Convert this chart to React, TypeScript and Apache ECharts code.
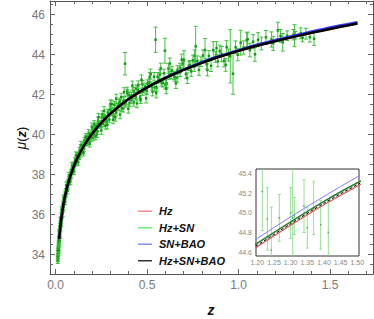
import React, { useEffect, useRef } from "react";
import * as echarts from "echarts";

// ---- model curves ----
const zGrid = [0.02, 0.03, 0.04, 0.05, 0.06, 0.07, 0.08, 0.09, 0.10, 0.12, 0.15, 0.175, 0.20, 0.25, 0.30, 0.35, 0.40, 0.45, 0.50, 0.55, 0.60, 0.65, 0.70, 0.75, 0.80, 0.85, 0.90, 0.95, 1.00, 1.10, 1.20, 1.30, 1.40, 1.50, 1.60, 1.65];
const muHz = [34.79, 35.69, 36.33, 36.83, 37.24, 37.59, 37.89, 38.16, 38.41, 38.84, 39.36, 39.73, 40.05, 40.59, 41.05, 41.44, 41.78, 42.08, 42.35, 42.60, 42.83, 43.04, 43.24, 43.42, 43.59, 43.75, 43.90, 44.04, 44.18, 44.44, 44.655, 44.875, 45.085, 45.275, 45.46, 45.55];
const muHzSn = [34.79, 35.69, 36.33, 36.83, 37.24, 37.59, 37.89, 38.16, 38.41, 38.84, 39.36, 39.73, 40.05, 40.59, 41.05, 41.44, 41.78, 42.08, 42.35, 42.60, 42.83, 43.05, 43.25, 43.43, 43.60, 43.77, 43.92, 44.06, 44.20, 44.46, 44.69, 44.91, 45.12, 45.31, 45.49, 45.58];
const muSnBao = [34.79, 35.69, 36.33, 36.83, 37.24, 37.59, 37.90, 38.17, 38.42, 38.85, 39.37, 39.74, 40.06, 40.61, 41.07, 41.46, 41.80, 42.11, 42.38, 42.63, 42.87, 43.08, 43.28, 43.46, 43.64, 43.81, 43.96, 44.10, 44.24, 44.51, 44.74, 44.96, 45.17, 45.37, 45.55, 45.64];
const muHzSnBao = [34.79, 35.69, 36.33, 36.83, 37.24, 37.59, 37.89, 38.16, 38.41, 38.84, 39.36, 39.73, 40.05, 40.59, 41.05, 41.44, 41.78, 42.08, 42.35, 42.60, 42.83, 43.04, 43.24, 43.42, 43.59, 43.76, 43.91, 44.05, 44.19, 44.45, 44.67, 44.89, 45.10, 45.29, 45.47, 45.56];

// ---- SN data [z, mu, error] ----
const snLow = [
  [0.0122, 33.68, 0.12], [0.0126, 33.85, 0.13], [0.0131, 33.79, 0.12], [0.0137, 34.05, 0.14], [0.0142, 33.94, 0.12], [0.0148, 34.18, 0.13], [0.0153, 34.08, 0.12], [0.0158, 34.40, 0.13], [0.0163, 34.29, 0.12], [0.0169, 34.49, 0.13], [0.0174, 34.35, 0.12], [0.0180, 34.58, 0.13], [0.0186, 34.77, 0.14], [0.0192, 34.62, 0.12], [0.0198, 34.78, 0.12], [0.0205, 34.71, 0.13], [0.0212, 35.02, 0.13], [0.0219, 34.93, 0.12], [0.0226, 35.12, 0.12], [0.0234, 35.02, 0.13], [0.0242, 35.33, 0.13], [0.0250, 35.26, 0.12], [0.0259, 35.43, 0.12], [0.0268, 35.31, 0.13], [0.0277, 35.53, 0.12], [0.0286, 35.73, 0.13], [0.0295, 35.57, 0.12], [0.0305, 35.78, 0.12], [0.0316, 35.70, 0.12], [0.0327, 35.99, 0.13], [0.0338, 35.91, 0.12], [0.0350, 36.12, 0.12], [0.0362, 35.97, 0.13], [0.0375, 36.23, 0.12], [0.0388, 36.40, 0.13], [0.0401, 36.27, 0.12], [0.0415, 36.51, 0.12], [0.0430, 36.37, 0.13], [0.0445, 36.60, 0.12], [0.0460, 36.79, 0.13], [0.0476, 36.65, 0.12], [0.0492, 36.87, 0.12], [0.0510, 36.75, 0.13], [0.0528, 37.07, 0.12], [0.0547, 36.99, 0.12], [0.0566, 37.17, 0.13], [0.0586, 37.04, 0.12], [0.0607, 37.36, 0.12], [0.0629, 37.29, 0.13], [0.0651, 37.57, 0.12], [0.0674, 37.41, 0.12], [0.0698, 37.62, 0.13], [0.0722, 37.77, 0.12], [0.0748, 37.61, 0.12], [0.0775, 37.88, 0.13], [0.0803, 37.88, 0.12], [0.0832, 38.12, 0.12], [0.0862, 37.96, 0.13], [0.0893, 38.22, 0.12], [0.0925, 38.16, 0.12], [0.0958, 38.43, 0.13], [0.0992, 38.26, 0.12], [0.1027, 38.52, 0.12], [0.1063, 38.72, 0.13], [0.1100, 38.55, 0.12], [0.1140, 38.81, 0.13], [0.1180, 38.65, 0.12], [0.1190, 38.98, 0.13], [0.1222, 38.95, 0.12], [0.1265, 38.91, 0.13], [0.1283, 38.89, 0.13], [0.1309, 39.21, 0.14], [0.1355, 39.00, 0.13], [0.1378, 39.36, 0.14], [0.1402, 39.28, 0.13], [0.1450, 39.21, 0.12], [0.1475, 39.15, 0.13], [0.1500, 39.49, 0.14], [0.1552, 39.30, 0.13], [0.1580, 39.72, 0.15], [0.1606, 39.56, 0.13], [0.1661, 39.80, 0.15], [0.1690, 39.61, 0.14], [0.1718, 39.59, 0.14],
];
const snMid = [
  [0.1776, 39.88, 0.14], [0.1810, 40.09, 0.16], [0.1835, 39.66, 0.15], [0.1895, 39.99, 0.14], [0.1930, 39.81, 0.15], [0.1957, 39.94, 0.14], [0.2021, 40.29, 0.15], [0.2060, 39.85, 0.15], [0.2087, 40.02, 0.14], [0.2110, 40.53, 0.17], [0.2155, 40.26, 0.14], [0.2190, 40.31, 0.14], [0.2225, 40.45, 0.15], [0.2260, 40.02, 0.16], [0.2297, 40.17, 0.15], [0.2330, 40.71, 0.17], [0.2371, 40.54, 0.14], [0.2410, 40.50, 0.15], [0.2447, 40.50, 0.14], [0.2480, 40.48, 0.15], [0.2525, 40.86, 0.16], [0.2570, 41.02, 0.17], [0.2605, 40.55, 0.15], [0.2640, 40.86, 0.16], [0.2687, 40.82, 0.15], [0.2730, 40.45, 0.17], [0.2771, 40.76, 0.14], [0.2810, 40.67, 0.16], [0.2857, 41.11, 0.16], [0.2900, 41.08, 0.16], [0.2945, 40.76, 0.16], [0.2990, 41.27, 0.17], [0.3035, 41.18, 0.15], [0.3080, 41.53, 0.19], [0.3127, 41.13, 0.15], [0.3180, 40.91, 0.17], [0.3221, 41.50, 0.17], [0.3270, 40.87, 0.19], [0.3317, 41.14, 0.16], [0.3380, 41.37, 0.16], [0.3415, 41.42, 0.15], [0.3480, 41.58, 0.17], [0.3515, 41.66, 0.17], [0.3590, 41.88, 0.19], [0.3617, 41.33, 0.16], [0.3700, 41.31, 0.18], [0.3721, 41.71, 0.16], [0.3800, 43.55, 0.56], [0.3810, 41.55, 0.17], [0.3827, 41.60, 0.16], [0.3920, 42.18, 0.20], [0.3935, 42.07, 0.18], [0.4040, 41.97, 0.17], [0.4045, 41.59, 0.17], [0.4150, 41.73, 0.18], [0.4157, 41.95, 0.16], [0.4271, 42.18, 0.18], [0.4280, 41.62, 0.19], [0.4387, 41.90, 0.17], [0.4400, 42.30, 0.19], [0.4505, 42.23, 0.17], [0.4520, 42.49, 0.20], [0.4625, 41.87, 0.19], [0.4650, 41.76, 0.20], [0.4747, 42.52, 0.19], [0.4770, 42.15, 0.18], [0.4871, 42.30, 0.17], [0.4900, 42.39, 0.19], [0.4997, 42.20, 0.18], [0.5030, 42.55, 0.19], [0.5125, 42.61, 0.19], [0.5150, 42.89, 0.22], [0.5255, 42.42, 0.18], [0.5300, 42.15, 0.21], [0.5387, 42.90, 0.21], [0.5420, 42.36, 0.20], [0.5470, 44.75, 0.63], [0.5521, 42.37, 0.20], [0.5580, 42.90, 0.21], [0.5657, 42.77, 0.19], [0.5700, 43.03, 0.22], [0.5795, 42.62, 0.19], [0.5870, 42.59, 0.21], [0.5935, 43.07, 0.21], [0.5980, 44.20, 0.62], [0.6000, 42.51, 0.22], [0.6077, 42.56, 0.22], [0.6170, 43.31, 0.24], [0.6221, 42.97, 0.20], [0.6320, 43.03, 0.21], [0.6367, 43.20, 0.22], [0.6480, 42.96, 0.21], [0.6515, 42.88, 0.21], [0.6650, 42.85, 0.22], [0.6665, 43.24, 0.21], [0.6800, 43.35, 0.22], [0.6817, 43.12, 0.21], [0.6971, 43.56, 0.24], [0.7020, 43.72, 0.48], [0.7127, 43.03, 0.23], [0.7285, 43.43, 0.22],
];
const snHigh = [
  [0.735, 43.49, 0.22], [0.742, 43.17, 0.25], [0.751, 43.72, 0.26], [0.758, 43.40, 0.24], [0.766, 44.42, 1.00], [0.775, 43.69, 0.25], [0.784, 43.24, 0.27], [0.795, 43.65, 0.24], [0.806, 43.96, 0.28], [0.817, 44.23, 0.58], [0.826, 43.53, 0.26], [0.838, 43.94, 0.27], [0.850, 43.44, 0.28], [0.862, 44.23, 0.42], [0.874, 43.88, 0.26], [0.887, 43.67, 0.28], [0.898, 44.18, 0.30], [0.908, 44.03, 0.38], [0.921, 43.69, 0.30], [0.935, 44.38, 0.32], [0.945, 43.98, 0.30], [0.955, 43.92, 1.33], [0.970, 43.05, 1.03], [0.984, 44.37, 0.32], [0.996, 44.00, 0.30], [1.012, 44.60, 0.62], [1.028, 44.36, 0.33], [1.045, 44.73, 0.36], [1.062, 44.23, 0.34], [1.080, 44.65, 0.35], [1.107, 44.75, 0.35], [1.125, 44.56, 0.32], [1.150, 44.87, 0.34], [1.180, 44.76, 0.38], [1.190, 44.57, 0.35],
  [1.215, 45.22, 0.40], [1.230, 44.94, 0.32], [1.242, 44.62, 0.44], [1.266, 44.95, 0.24], [1.300, 45.00, 0.26], [1.306, 44.95, 0.55], [1.311, 44.97, 0.19], [1.340, 45.07, 0.27], [1.350, 44.85, 0.21], [1.369, 45.05, 0.27], [1.390, 44.88, 0.25], [1.413, 44.80, 0.33],
];
const snExtra = [
  [0.0140, 34.18, 0.15], [0.0172, 34.24, 0.15], [0.0208, 35.09, 0.15], [0.0240, 34.99, 0.15], [0.0272, 35.70, 0.16], [0.0310, 35.55, 0.15], [0.0345, 36.26, 0.16], [0.0395, 36.07, 0.15], [0.0450, 36.83, 0.16], [0.0520, 36.67, 0.15], [0.0590, 37.47, 0.16], [0.0660, 37.20, 0.16], [0.0735, 37.96, 0.16], [0.0815, 37.66, 0.16], [0.0905, 38.45, 0.17], [0.1010, 38.17, 0.16], [0.1120, 38.97, 0.17], [0.1245, 38.64, 0.17], [0.1390, 39.49, 0.18], [0.1530, 39.10, 0.17], [0.1650, 39.88, 0.18], [0.1870, 39.56, 0.18], [0.1990, 40.39, 0.19], [0.2200, 39.93, 0.19], [0.2350, 40.87, 0.20], [0.2500, 40.21, 0.19], [0.2660, 41.19, 0.21], [0.2830, 40.49, 0.20], [0.3000, 41.53, 0.21], [0.3150, 40.75, 0.20], [0.3320, 41.80, 0.22], [0.3530, 41.01, 0.21], [0.3750, 42.13, 0.22], [0.3980, 41.30, 0.22], [0.4200, 42.45, 0.23], [0.4450, 41.57, 0.22], [0.4700, 42.75, 0.24], [0.4950, 41.82, 0.23], [0.5200, 43.03, 0.25], [0.5500, 42.08, 0.24], [0.5750, 43.32, 0.26], [0.6050, 42.30, 0.25], [0.6250, 43.56, 0.27], [0.6580, 42.57, 0.26], [0.6900, 43.75, 0.28], [0.7200, 42.83, 0.27], [0.7600, 43.95, 0.29], [0.8300, 43.24, 0.30], [0.8800, 44.33, 0.32], [0.9300, 43.49, 0.32], [1.0500, 44.77, 0.36], [1.0900, 44.02, 0.35],
];

// ---- ticks ----
const xMajor = [0, 0.5, 1.0, 1.5];
const xMinor = [0.1, 0.2, 0.3, 0.4, 0.6, 0.7, 0.8, 0.9, 1.1, 1.2, 1.3, 1.4, 1.6, 1.7];
const yMajor = [34, 36, 38, 40, 42, 44, 46];
const yMinor = [33.5, 34.5, 35, 35.5, 36.5, 37, 37.5, 38.5, 39, 39.5, 40.5, 41, 41.5, 42.5, 43, 43.5, 44.5, 45, 45.5, 46.5];
const inXMajor = [1.2, 1.25, 1.3, 1.35, 1.4, 1.45, 1.5];
const inXMinor = [1.21, 1.22, 1.23, 1.24, 1.26, 1.27, 1.28, 1.29, 1.31, 1.32, 1.33, 1.34, 1.36, 1.37, 1.38, 1.39, 1.41, 1.42, 1.43, 1.44, 1.46, 1.47, 1.48, 1.49];
const inYMajor = [44.6, 44.8, 45.0, 45.2, 45.4];
const inYMinor = [44.65, 44.7, 44.75, 44.85, 44.9, 44.95, 45.05, 45.1, 45.15, 45.25, 45.3, 45.35, 45.45];

const legendNames = ["Hz", "Hz+SN", "SN+BAO", "Hz+SN+BAO"];

const FONT = "'Liberation Sans', Arial, Helvetica, sans-serif";

function errRender(cfg: any) {
  return (params: any, api: any) => {
    const x = api.value(0), y = api.value(1), e = api.value(2);
    const cs = params.coordSys;
    const top = cs.y, bot = cs.y + cs.height;
    const c = api.coord([x, y]);
    const hi = api.coord([x, y + e])[1];
    const lo = api.coord([x, y - e])[1];
    const px = c[0];
    const children: any[] = [];
    if (px < cs.x || px > cs.x + cs.width) return { type: "group", children };
    const hiC = Math.max(hi, top), loC = Math.min(lo, bot);
    const st = { stroke: cfg.color, lineWidth: cfg.lw, opacity: cfg.op };
    if (loC > hiC) children.push({ type: "line", shape: { x1: px, y1: hiC, x2: px, y2: loC }, style: st });
    if (hi >= top && hi <= bot) children.push({ type: "line", shape: { x1: px - cfg.cap, y1: hi, x2: px + cfg.cap, y2: hi }, style: st });
    if (lo >= top && lo <= bot) children.push({ type: "line", shape: { x1: px - cfg.cap, y1: lo, x2: px + cfg.cap, y2: lo }, style: st });
    if (c[1] >= top && c[1] <= bot) children.push({ type: "rect", shape: { x: px - cfg.d / 2, y: c[1] - cfg.d / 2, width: cfg.d, height: cfg.d }, style: { fill: cfg.dot } });
    return { type: "group", children };
  };
}

function tickAxis(grid: number, pos: string, min: number, max: number, ticks: number[], len: number, line: boolean, labels?: any) {
  return {
    type: "value",
    gridIndex: grid,
    position: pos,
    min,
    max,
    axisLine: { show: line, onZero: false, lineStyle: { color: "#555", width: 1 } },
    axisTick: { show: true, inside: true, length: len, customValues: ticks, lineStyle: { color: "#666", width: 1 } },
    axisLabel: labels ? labels : { show: false },
    splitLine: { show: false },
  };
}

const toPairs = (ys: number[]) => zGrid.map((z, i) => [z, ys[i]]);

export default function App() {
  const ref = useRef<HTMLDivElement>(null);
  useEffect(() => {
    if (!ref.current) return;
    const chart = echarts.init(ref.current, undefined, { renderer: "svg" });
    const sn = [...snLow, ...snMid, ...snExtra, ...snHigh];
    const mainLbl = (vals: number[], fmt: (v: number) => string, m: number) => ({
      show: true, customValues: vals, formatter: fmt, margin: m, color: "#7a7a7a", fontSize: 12, fontFamily: FONT,
    });
    const inLbl = (vals: number[], fmt: (v: number) => string, m: number) => ({
      show: true, customValues: vals, formatter: fmt, margin: m, color: "#8a8a8a", fontSize: 7, fontFamily: FONT, hideOverlap: false,
    });
    const XMIN = -0.03, XMAX = 1.735, YMIN = 33.035, YMAX = 46.685;
    const IXMIN = 1.196, IXMAX = 1.505, IYMIN = 44.559, IYMAX = 45.451;

    const lineS = (name: string, ys: number[], color: string, width: number, xi: number, z: number, type: any = "solid") => ({
      type: "line", name, xAxisIndex: xi, yAxisIndex: xi, data: toPairs(ys), showSymbol: false, symbol: "none",
      smooth: 0.3, clip: true, z, lineStyle: { color, width, type }, itemStyle: { color }, silent: true,
    });

    chart.setOption({
      animation: false,
      backgroundColor: "#fff",
      grid: [
        { left: 50, top: 1, width: 323, height: 273, show: false },
        { left: 256, top: 169, width: 103, height: 87, show: true, backgroundColor: "#fff", borderColor: "#333", borderWidth: 1, z: 5 },
      ],
      xAxis: [
        tickAxis(0, "bottom", XMIN, XMAX, xMajor, 5, true, mainLbl(xMajor, (v) => v.toFixed(1), 5)),
        tickAxis(0, "bottom", XMIN, XMAX, xMinor, 3, false),
        tickAxis(0, "top", XMIN, XMAX, xMajor, 5, true),
        tickAxis(0, "top", XMIN, XMAX, xMinor, 3, false),
        tickAxis(1, "bottom", IXMIN, IXMAX, inXMajor, 3, false, inLbl(inXMajor, (v) => v.toFixed(2), 3)),
        tickAxis(1, "bottom", IXMIN, IXMAX, inXMinor, 1.5, false),
        tickAxis(1, "top", IXMIN, IXMAX, inXMajor, 3, false),
      ],
      yAxis: [
        tickAxis(0, "left", YMIN, YMAX, yMajor, 5, true, mainLbl(yMajor, (v) => String(Math.round(v)), 5)),
        tickAxis(0, "left", YMIN, YMAX, yMinor, 3, false),
        tickAxis(0, "right", YMIN, YMAX, yMajor, 5, true),
        tickAxis(0, "right", YMIN, YMAX, yMinor, 3, false),
        tickAxis(1, "left", IYMIN, IYMAX, inYMajor, 3, false, inLbl(inYMajor, (v) => v.toFixed(1), 4)),
        tickAxis(1, "left", IYMIN, IYMAX, inYMinor, 1.5, false),
        tickAxis(1, "right", IYMIN, IYMAX, inYMajor, 3, false),
      ],
      legend: {
        orient: "vertical",
        left: 133,
        top: 198,
        itemWidth: 14,
        itemHeight: 1.5,
        itemGap: 0,
        icon: "rect",
        selectedMode: false,
        textStyle: { fontFamily: FONT, fontSize: 11, fontWeight: "bold", fontStyle: "italic", color: "#111", lineHeight: 16.5, padding: [0, 0, 0, 2] },
        data: [
          { name: legendNames[0], itemStyle: { color: "#ff8a8a" } },
          { name: legendNames[1], itemStyle: { color: "#6cf06c" } },
          { name: legendNames[2], itemStyle: { color: "#8a8aff" } },
          { name: legendNames[3], itemStyle: { color: "#333" } },
        ],
      },
      graphic: [
        {
          type: "text", x: 21, y: 138, rotation: Math.PI / 2,
          style: {
            text: "{a|μ}{b|(}{c|z}{b|)}", align: "center", verticalAlign: "middle",
            rich: {
              a: { fontFamily: FONT, fontSize: 14, fontStyle: "italic", fill: "#111" },
              b: { fontFamily: FONT, fontSize: 13, fill: "#111" },
              c: { fontFamily: FONT, fontSize: 13, fontWeight: "bold", fontStyle: "italic", fill: "#111" },
            },
          },
        },
        {
          type: "text", x: 211, y: 310,
          style: { text: "z", align: "center", verticalAlign: "middle", fontFamily: FONT, fontSize: 14, fontWeight: "bold", fontStyle: "italic", fill: "#111" },
        },
      ],
      series: [
        {
          type: "custom", name: "SN", xAxisIndex: 0, yAxisIndex: 0, data: sn, encode: { x: 0, y: 1 }, z: 2, silent: true,
          renderItem: errRender({ color: "#2cbc2c", lw: 1, op: 0.9, cap: 2, d: 2.5, dot: "#149a14" }),
        },
        lineS(legendNames[0], muHz, "#ff5a5a", 2, 0, 3),
        lineS(legendNames[1], muHzSn, "#45d845", 2, 0, 3),
        lineS(legendNames[2], muSnBao, "#3a3aff", 2, 0, 4),
        lineS(legendNames[3], muHzSnBao, "#000", 2.5, 0, 5),
        {
          type: "custom", name: "SN inset", xAxisIndex: 4, yAxisIndex: 4, data: sn, encode: { x: 0, y: 1 }, z: 6, silent: true,
          renderItem: errRender({ color: "#7fd87f", lw: 1, op: 0.8, cap: 1.5, d: 1.5, dot: "#4fae4f" }),
        },
        lineS("Hz inset", muHz, "#e05a5a", 1.2, 4, 7),
        lineS("Hz+SN+BAO inset", muHzSnBao, "#000", 1, 4, 8, [3, 2]),
        lineS("Hz+SN inset", muHzSn, "#2e7d32", 1.5, 4, 8),
        lineS("SN+BAO inset", muSnBao, "#7d7dff", 1, 4, 8),
      ],
    });
    return () => chart.dispose();
  }, []);
  return <div ref={ref} style={{ position: "absolute", left: 0, top: 0, width: 374, height: 319 }} />;
}
